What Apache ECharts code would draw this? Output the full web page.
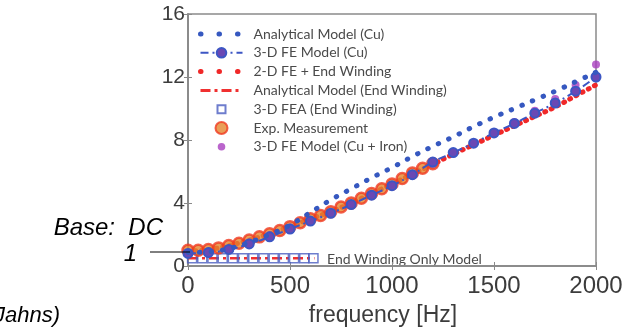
<!DOCTYPE html>
<html>
<head>
<meta charset="utf-8">
<script src="https://cdn.jsdelivr.net/npm/echarts@6/dist/echarts.min.js"></script>
<style>
  html, body { margin: 0; padding: 0; background: #fff; }
  #chart { width: 628px; height: 331px; }
</style>
</head>
<body>
<div id="chart"></div>
<script>
// frequency grid for the model curves (Hz)
var freqModel = [0, 100, 200, 300, 400, 500, 600, 700, 800, 900, 1000,
                 1100, 1200, 1300, 1400, 1500, 1600, 1700, 1800, 1900, 2000];
// measurement frequencies (Hz)
var freqMeas = [0, 50, 100, 150, 200, 250, 300, 350, 400, 450, 500, 550, 600,
                650, 700, 750, 800, 850, 900, 950, 1000, 1050, 1100, 1150, 1200];
// end winding only model frequencies
var freqEnd = [20, 70, 120, 170, 220, 270, 320, 370, 420, 470, 520, 570, 615];
var freqEndLine = [0, 620];

var analyticalCu = [0.85, 0.9, 1.1, 1.5, 2.0, 2.6, 3.4, 4.2, 4.9, 5.6, 6.25,
                    6.95, 7.6, 8.2, 8.85, 9.45, 10.0, 10.55, 11.1, 11.7, 12.3];
var fe3dCu = [0.8, 0.85, 1.05, 1.4, 1.85, 2.35, 2.85, 3.35, 3.9, 4.5, 5.1,
              5.8, 6.6, 7.2, 7.8, 8.45, 9.05, 9.7, 10.35, 11.1, 12.0];
var fe2dEnd = [0.95, 1.05, 1.3, 1.65, 2.05, 2.5, 3.0, 3.45, 4.0, 4.6, 5.2,
               5.85, 6.45, 7.1, 7.7, 8.3, 8.9, 9.5, 10.1, 10.8, 11.5];
var analyticalEnd = [0.5, 0.5];
var fea3dEnd = [0.5, 0.5, 0.5, 0.5, 0.5, 0.5, 0.5, 0.5, 0.5, 0.5, 0.5, 0.5, 0.5];
var expMeas = [1.0, 1.0, 1.05, 1.15, 1.3, 1.45, 1.65, 1.85, 2.05, 2.25, 2.5, 2.75, 3.0,
               3.2, 3.45, 3.75, 4.0, 4.3, 4.6, 4.9, 5.2, 5.55, 5.9, 6.2, 6.5];
var fe3dIron = [0.85, 0.9, 1.1, 1.5, 1.95, 2.45, 2.9, 3.4, 3.95, 4.55, 5.15,
                5.8, 6.5, 7.15, 7.8, 8.5, 9.15, 9.85, 10.6, 11.5, 12.8];

var xTicks = [0, 500, 1000, 1500, 2000];
var yTicks = [0, 4, 8, 12, 16];

function pairs(xs, ys) {
    return xs.map(function (x, i) { return [x, ys[i]]; });
}

var myChart = echarts.init(document.getElementById('chart'));
var axisGray = '#8a8a8a';
var labelColor = '#3c3c3c';
var noSymbol = { opacity: 0 };

var option = {
    animation: false,
    backgroundColor: '#fff',
    grid: {
        left: 188, right: 32, top: 14, bottom: 65,
        outerBoundsMode: 'none', containLabel: false,
        show: true, borderColor: axisGray, borderWidth: 1.5
    },
    legend: {
        orient: 'vertical',
        left: 193, top: 22,
        itemWidth: 42, itemHeight: 12, itemGap: 4.8,
        textStyle: { fontFamily: 'Lato', fontSize: 14, color: '#4a4a4a', lineHeight: 14,
                     padding: [0, 0, 0, 6] },
        data: [
            { name: 'Analytical Model (Cu)', itemStyle: noSymbol,
              lineStyle: { width: 5, type: [0.5, 18], cap: 'round' } },
            { name: '3-D FE Model (Cu)' },
            { name: '2-D FE + End Winding', itemStyle: noSymbol,
              lineStyle: { width: 5, type: [0.5, 18], cap: 'round' } },
            { name: 'Analytical Model (End Winding)', itemStyle: noSymbol,
              lineStyle: { width: 3 } },
            { name: '3-D FEA (End Winding)', icon: 'path://M0,0M12,12M2,2h8v8h-8z' },
            { name: 'Exp. Measurement' },
            { name: '3-D FE Model (Cu + Iron)',
              icon: 'path://M0,0M12,12M6,2.2a3.8,3.8 0 1,0 0.01,0z' }
        ]
    },
    xAxis: [{
        type: 'value', min: xTicks[0], max: xTicks[xTicks.length - 1], interval: 500,
        name: 'frequency [Hz]', nameLocation: 'middle', nameGap: 38,
        nameTextStyle: { fontFamily: 'Liberation Sans', fontSize: 23, color: labelColor,
                         padding: [0, 18, 0, 0] },
        axisLine: { lineStyle: { color: axisGray, width: 1.5 } },
        axisTick: { inside: true, length: 4, lineStyle: { color: axisGray } },
        axisLabel: { fontFamily: 'Liberation Sans', fontSize: 24, color: labelColor, margin: 8,
                     formatter: function (v) { return String(v); } },
        splitLine: { show: false }
    }, {
        type: 'value', position: 'top', min: 0, max: 2000, interval: 500,
        axisLine: { lineStyle: { color: axisGray, width: 1.5 } },
        axisTick: { inside: true, length: 4, lineStyle: { color: axisGray } },
        axisLabel: { show: false }, splitLine: { show: false }
    }],
    yAxis: [{
        type: 'value', min: yTicks[0], max: yTicks[yTicks.length - 1], interval: 4,
        axisLine: { show: true, lineStyle: { color: axisGray, width: 1.5 } },
        axisTick: { show: true, inside: true, length: 4, lineStyle: { color: axisGray } },
        axisLabel: { fontFamily: 'Liberation Sans', fontSize: 21, color: labelColor, margin: 3 },
        splitLine: { show: false }
    }, {
        type: 'value', position: 'right', min: 0, max: 16, interval: 4,
        axisLine: { show: true, lineStyle: { color: axisGray, width: 1.5 } },
        axisTick: { show: true, inside: true, length: 4, lineStyle: { color: axisGray } },
        axisLabel: { show: false }, splitLine: { show: false }
    }],
    series: [
        {
            name: '2-D FE + End Winding', type: 'line', smooth: true, symbol: 'none',
            data: pairs(freqModel, fe2dEnd), z: 2,
            itemStyle: { color: '#f02828' },
            lineStyle: { color: '#f02828', width: 5, type: [1, 6], cap: 'round' }
        },
        {
            name: 'Analytical Model (End Winding)', type: 'line', symbol: 'none',
            data: pairs(freqEndLine, analyticalEnd), z: 2,
            itemStyle: { color: '#f03030' },
            lineStyle: { color: '#f03030', width: 2.5, type: [10, 4, 3, 4] }
        },
        {
            name: '3-D FEA (End Winding)', type: 'scatter', symbol: 'rect', symbolSize: 9,
            symbolKeepAspect: true,
            data: pairs(freqEnd, fea3dEnd), z: 3,
            itemStyle: { color: 'rgba(255,255,255,0)', borderColor: '#4a5cc0', borderWidth: 1.5 }
        },
        {
            name: 'Exp. Measurement', type: 'scatter', symbol: 'circle', symbolSize: 11,
            data: pairs(freqMeas, expMeas), z: 3,
            itemStyle: { color: '#e4862e', borderColor: '#f03a20', borderWidth: 2.5 }
        },
        {
            name: '3-D FE Model (Cu + Iron)', type: 'scatter', symbol: 'circle', symbolSize: 8,
            symbolKeepAspect: true,
            data: pairs(freqModel, fe3dIron), z: 4,
            itemStyle: { color: '#a93fbf' }
        },
        {
            name: '3-D FE Model (Cu)', type: 'line', smooth: true, symbol: 'circle', symbolSize: 9,
            showAllSymbol: true,
            data: pairs(freqModel, fe3dCu), z: 5,
            itemStyle: { color: '#6a48b4', borderColor: '#3c56c4', borderWidth: 2 },
            lineStyle: { color: '#3c56c4', width: 2, type: [8, 4, 2, 4] }
        },
        {
            name: 'Analytical Model (Cu)', type: 'line', smooth: true, symbol: 'none',
            data: pairs(freqModel, analyticalCu), z: 6,
            itemStyle: { color: '#3658c0' },
            lineStyle: { color: '#3658c0', width: 5, type: [0.5, 11], cap: 'round' }
        }
    ],
    graphic: [
        {
            type: 'text', left: 327, top: 252,
            style: { text: 'End Winding Only Model', font: '14px Lato', fill: '#4a4a4a' }
        },
        {
            type: 'text', x: 163, y: 228,
            style: { text: 'Base:  DC', font: 'italic 24px "Liberation Sans"', fill: '#000',
                     align: 'right', verticalAlign: 'middle' }
        },
        {
            type: 'text', x: 137, y: 254,
            style: { text: '1', font: 'italic 24px "Liberation Sans"', fill: '#000',
                     align: 'right', verticalAlign: 'middle' }
        },
        {
            type: 'line', shape: { x1: 150, y1: 252, x2: 190, y2: 252 },
            style: { stroke: '#000', lineWidth: 1 }, z: 10
        },
        {
            type: 'text', x: 60, y: 316,
            style: { text: '(Jahns)', font: 'italic 22px "Liberation Sans"', fill: '#000',
                     align: 'right', verticalAlign: 'middle' }
        }
    ]
};

myChart.setOption(option);
</script>
</body>
</html>
